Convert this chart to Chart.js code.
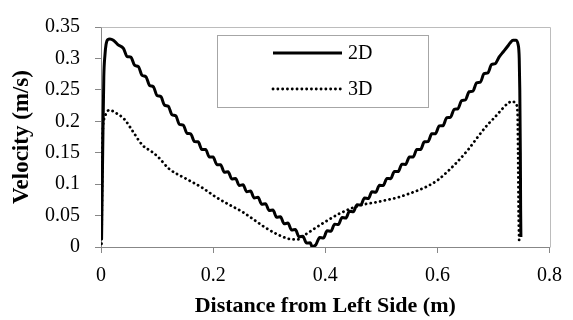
<!DOCTYPE html>
<html>
<head>
<meta charset="utf-8">
<script src="https://cdn.jsdelivr.net/npm/chart.js@4.4.1/dist/chart.umd.min.js"></script>
<style>
  html, body { margin: 0; padding: 0; background: #ffffff; }
  canvas { display: block; }
</style>
</head>
<body>
<canvas id="c" width="573" height="320"></canvas>
<script>
// ---- data ----
const seriesNames = ['2D', '3D'];
const xTickLabels = ['0', '0.2', '0.4', '0.6', '0.8'];
const yTickLabels = ['0', '0.05', '0.1', '0.15', '0.2', '0.25', '0.3', '0.35'];
const xAxisTitle = 'Distance from Left Side (m)';
const yAxisTitle = 'Velocity (m/s)';

const dist2D = [0.001, 0.003, 0.005, 0.007, 0.009, 0.012, 0.016, 0.022, 0.030,
  0.0400, 0.0467, 0.0533, 0.0600, 0.0667, 0.0733, 0.0800, 0.0867, 0.0933, 0.1000,
  0.1067, 0.1133, 0.1200, 0.1267, 0.1333, 0.1400, 0.1467, 0.1533, 0.1600, 0.1667,
  0.1733, 0.1800, 0.1867, 0.1933, 0.2000, 0.2067, 0.2133, 0.2200, 0.2267, 0.2333,
  0.2400, 0.2467, 0.2533, 0.2600, 0.2667, 0.2733, 0.2800, 0.2867, 0.2933, 0.3000,
  0.3067, 0.3133, 0.3200, 0.3267, 0.3333, 0.3400, 0.3467, 0.3533, 0.3600, 0.3667,
  0.3733, 0.3765, 0.3833,
  0.3900, 0.3967, 0.4033, 0.4100, 0.4167, 0.4233, 0.4300, 0.4367, 0.4433, 0.4500,
  0.4567, 0.4633, 0.4700, 0.4767, 0.4833, 0.4900, 0.4967, 0.5033, 0.5100, 0.5167,
  0.5233, 0.5300, 0.5367, 0.5433, 0.5500, 0.5567, 0.5633, 0.5700, 0.5767, 0.5833,
  0.5900, 0.5967, 0.6033, 0.6100, 0.6167, 0.6233, 0.6300, 0.6367, 0.6433, 0.6500,
  0.6567, 0.6633, 0.6700, 0.6767, 0.6833, 0.6900, 0.6967, 0.7033,
  0.7100, 0.718, 0.725, 0.730, 0.735, 0.740, 0.744, 0.746, 0.747, 0.748, 0.7485, 0.749];

const vel2D = [0.012, 0.150, 0.270, 0.305, 0.322, 0.330, 0.331, 0.329, 0.322,
  0.3160, 0.3030, 0.3020, 0.2890, 0.2870, 0.2730, 0.2710, 0.2570, 0.2550, 0.2410,
  0.2393, 0.2257, 0.2240, 0.2103, 0.2087, 0.1950, 0.1940, 0.1810, 0.1800, 0.1677,
  0.1673, 0.1550, 0.1550, 0.1430, 0.1430, 0.1310, 0.1310, 0.1190, 0.1197, 0.1083,
  0.1090, 0.0980, 0.0990, 0.0880, 0.0890, 0.0780, 0.0790, 0.0680, 0.0690, 0.0580,
  0.0587, 0.0473, 0.0480, 0.0370, 0.0380, 0.0270, 0.0277, 0.0163, 0.0170, 0.0062,
  0.0068, 0.0005, 0.0037,
  0.0150, 0.0143, 0.0257, 0.0250, 0.0363, 0.0357, 0.0470, 0.0460, 0.0570, 0.0560,
  0.0673, 0.0667, 0.0780, 0.0770, 0.0880, 0.0870, 0.0983, 0.0977, 0.1090, 0.1087,
  0.1203, 0.1200, 0.1317, 0.1313, 0.1430, 0.1430, 0.1550, 0.1550, 0.1673, 0.1677,
  0.1800, 0.1803, 0.1927, 0.1930, 0.2057, 0.2063, 0.2190, 0.2200, 0.2330, 0.2340,
  0.2470, 0.2480, 0.2610, 0.2623, 0.2757, 0.2770, 0.2903, 0.2917,
  0.3020, 0.311, 0.319, 0.325, 0.329, 0.329, 0.322, 0.300, 0.250, 0.150, 0.060, 0.016];

const dist3D = [0.001, 0.002, 0.003, 0.006, 0.010, 0.015, 0.025, 0.042, 0.056, 0.074,
  0.090, 0.101, 0.122, 0.151, 0.181, 0.204, 0.225, 0.252, 0.275, 0.293,
  0.315, 0.335, 0.350, 0.365, 0.382, 0.400, 0.423, 0.445, 0.465, 0.490,
  0.506, 0.530, 0.547, 0.565, 0.583, 0.600, 0.618, 0.635, 0.655, 0.672,
  0.690, 0.701, 0.715, 0.725, 0.734, 0.740, 0.743, 0.744, 0.745, 0.746];

const vel3D = [0.005, 0.100, 0.180, 0.205, 0.214, 0.218, 0.214, 0.203, 0.185, 0.162,
  0.152, 0.144, 0.124, 0.109, 0.094, 0.080, 0.069, 0.056, 0.042, 0.031,
  0.020, 0.013, 0.012, 0.020, 0.030, 0.040, 0.052, 0.061, 0.067, 0.071,
  0.074, 0.079, 0.084, 0.090, 0.097, 0.106, 0.120, 0.135, 0.155, 0.175,
  0.195, 0.205, 0.219, 0.228, 0.232, 0.228, 0.215, 0.150, 0.050, 0.005];

// ---- build chart ----
const FONT = "'Liberation Serif', 'Times New Roman', serif";
const toPoints = (xs, ys) => xs.map((x, i) => ({ x: x, y: ys[i] }));

const frameAndLegend = {
  id: 'frameAndLegend',
  beforeDatasetsDraw(chart) {
    const { ctx, chartArea: a } = chart;
    ctx.save();
    ctx.strokeStyle = '#bcbcbc';
    ctx.lineWidth = 1;
    ctx.beginPath();
    ctx.moveTo(Math.round(a.left) + 0.5, Math.round(a.top) + 0.5);
    ctx.lineTo(Math.round(a.right) + 0.5, Math.round(a.top) + 0.5);
    ctx.lineTo(Math.round(a.right) + 0.5, Math.round(a.bottom) + 0.5);
    ctx.stroke();
    ctx.restore();
  },
  afterDatasetsDraw(chart) {
    const { ctx } = chart;
    const bx = 217.5, by = 35.5, bw = 211, bh = 72;
    ctx.save();
    ctx.fillStyle = '#ffffff';
    ctx.fillRect(bx, by, bw, bh);
    ctx.strokeStyle = '#a6a6a6';
    ctx.lineWidth = 1;
    ctx.strokeRect(bx, by, bw, bh);
    const rows = [53, 89];
    chart.data.datasets.forEach((ds, i) => {
      const y = rows[i];
      ctx.save();
      ctx.strokeStyle = ds.borderColor;
      ctx.lineWidth = ds.borderWidth;
      ctx.lineCap = ds.borderCapStyle || 'butt';
      ctx.setLineDash(ds.borderDash || []);
      ctx.beginPath();
      ctx.moveTo(273, y);
      ctx.lineTo(342, y);
      ctx.stroke();
      ctx.restore();
      ctx.fillStyle = '#000000';
      ctx.font = "20px " + FONT;
      ctx.textBaseline = 'middle';
      ctx.textAlign = 'left';
      ctx.fillText(ds.label, 348, y + 1);
    });
    ctx.restore();
  }
};

new Chart(document.getElementById('c'), {
  type: 'scatter',
  data: {
    datasets: [
      {
        label: seriesNames[0],
        data: toPoints(dist2D, vel2D),
        showLine: true,
        borderColor: '#000000',
        backgroundColor: '#000000',
        borderWidth: 3,
        pointRadius: 0,
        cubicInterpolationMode: 'monotone',
        borderJoinStyle: 'round'
      },
      {
        label: seriesNames[1],
        data: toPoints(dist3D, vel3D),
        showLine: true,
        borderColor: '#000000',
        backgroundColor: '#000000',
        borderWidth: 2.8,
        borderDash: [0.1, 4.7],
        borderCapStyle: 'round',
        pointRadius: 0,
        cubicInterpolationMode: 'monotone'
      }
    ]
  },
  options: {
    responsive: false,
    animation: false,
    devicePixelRatio: 1,
    layout: { padding: { top: 16, right: 21, left: 0, bottom: 0 } },
    plugins: {
      legend: { display: false },
      tooltip: { enabled: false }
    },
    scales: {
      x: {
        type: 'linear',
        min: 0,
        max: 0.8,
        afterFit(scale) { scale.height = 73; },
        afterBuildTicks(scale) {
          scale.ticks = xTickLabels.map(t => ({ value: parseFloat(t) }));
        },
        ticks: {
          callback: (v, i) => xTickLabels[i],
          font: { family: FONT, size: 20 },
          color: '#000000',
          padding: 11,
          maxRotation: 0,
          autoSkip: false
        },
        grid: { drawOnChartArea: false, drawTicks: true, tickLength: 6, color: '#878787' },
        border: { color: '#878787', width: 1 },
        title: {
          display: true,
          text: xAxisTitle,
          font: { family: FONT, size: 22, weight: 'bold' },
          color: '#000000',
          padding: { top: 0, bottom: 0 }
        }
      },
      y: {
        type: 'linear',
        min: 0,
        max: 0.35,
        afterFit(scale) { scale.width = 101; },
        afterBuildTicks(scale) {
          scale.ticks = yTickLabels.map(t => ({ value: parseFloat(t) }));
        },
        ticks: {
          callback: (v, i) => yTickLabels[i],
          font: { family: FONT, size: 20 },
          color: '#000000',
          padding: 15,
          autoSkip: false
        },
        grid: { drawOnChartArea: false, drawTicks: true, tickLength: 6, color: '#878787' },
        border: { color: '#878787', width: 1 },
        title: {
          display: true,
          text: yAxisTitle,
          font: { family: FONT, size: 23, weight: 'bold' },
          color: '#000000',
          padding: { top: 8, bottom: 0 }
        }
      }
    }
  },
  plugins: [frameAndLegend]
});
</script>
</body>
</html>
